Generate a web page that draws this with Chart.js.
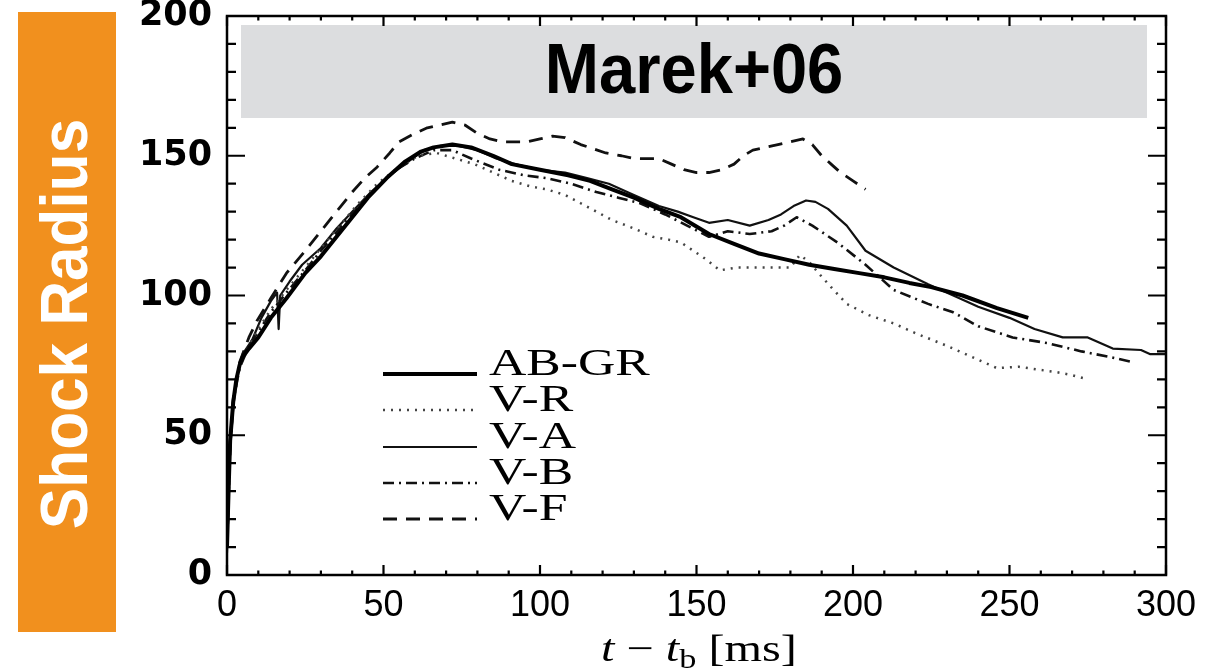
<!DOCTYPE html>
<html>
<head>
<meta charset="utf-8">
<script src="https://cdn.jsdelivr.net/npm/chart.js@4.4.1/dist/chart.umd.min.js"></script>
<style>
  html, body { margin: 0; padding: 0; background: #fff; }
  #wrap { position: relative; width: 1217px; height: 669px; }
  canvas { display: block; }
</style>
</head>
<body>
<div id="wrap"><canvas id="c" width="1217" height="669"></canvas></div>
<script>
// ---- Data ----
const chartTitle = "Marek+06";
const yAxisTitle = "Shock Radius";
const xTicks = [0, 50, 100, 150, 200, 250, 300];
const yTicks = [0, 50, 100, 150, 200];
const seriesNames = ["AB-GR", "V-R", "V-A", "V-B", "V-F"];

const tABGR = [0, 0.5, 1, 2, 3, 4, 5, 7, 10, 14, 19, 25, 30, 35, 40, 45, 51, 57, 62, 66, 72, 78, 85, 91, 100, 109, 116, 123, 130, 138, 145, 154, 162, 170, 178, 186, 194, 202, 210, 218, 225, 235, 246, 256];
const rABGR = [10, 30, 48, 62, 70, 75, 78, 81, 85, 92, 99, 108, 114, 121, 128, 135, 142, 148, 151.5, 153, 154, 153, 150, 147, 145, 143, 141, 138, 135, 131, 128, 122, 118.5, 115, 113, 111, 109.5, 108, 106.5, 104.5, 103, 100, 95.5, 92];

const tVR = [0, 1, 2, 4, 7, 10, 14, 19, 25, 30, 36, 42, 48, 55, 61, 67, 73, 79, 85, 91, 97, 102, 108, 113, 118, 123, 130, 136, 141, 145, 149, 153, 157.5, 163, 170, 176, 180, 183, 186, 189, 193, 198, 205, 213, 220, 230, 240, 246, 253, 259, 265, 270, 275];
const rVR = [10, 46, 62, 74, 82, 88, 95, 102, 110, 117, 125, 133, 140, 146, 150, 151, 149, 147, 144, 141, 139, 138, 136, 133, 130, 127, 124, 121, 120, 119, 116, 113, 109, 110, 110, 110, 110, 114.5, 112, 108, 103, 97, 93, 90, 86.5, 82, 77, 74, 74.5, 73.5, 72.6, 71.5, 70];

const tVA = [0, 1, 2, 3, 5, 8, 11, 14, 16, 16.5, 17, 20, 24, 30, 35, 40, 46, 52, 58, 63, 68, 74, 80, 86, 92, 100, 108, 115, 122, 130, 138, 144, 149, 154, 160, 167, 173, 177, 181, 185, 188, 192, 198, 204, 213, 224, 234, 240, 250, 258, 267, 275, 283, 292, 295, 300];
const rVA = [8, 45, 60, 70, 79, 84, 92, 98, 101, 88, 100, 105, 111, 117, 124, 130, 137, 143, 148, 152, 153.5, 153.5, 152, 149, 147, 145, 144, 142, 140, 136, 132, 130, 128, 126, 127, 125, 127, 129, 132, 134, 133.5, 131, 125, 116, 110, 104, 99, 96, 92, 88, 85, 85, 81, 80.5, 79, 79];

const tVB = [0, 1, 2, 4, 7, 10, 14, 19, 25, 30, 36, 42, 48, 54, 60, 66, 72, 78, 87, 95, 102, 110, 118, 125, 132, 140, 147, 154, 160, 167, 174, 178, 182, 187, 195, 204, 213, 224, 232, 240, 251, 262, 273, 282, 290];
const rVB = [10, 46, 62, 74, 82, 87, 94, 101, 109, 116, 124, 132, 139, 145, 149, 152, 152, 149, 145, 143, 142, 140, 137, 135, 133, 129, 125, 121, 123, 122, 123, 125, 128, 125, 119, 111, 102, 97, 94, 89, 85, 83, 80, 78, 76];

const tVF = [0, 1, 2, 4, 7, 9.6, 14, 19, 25, 30, 35, 40, 44, 48, 52, 55, 60, 64, 68, 72, 76, 80, 84, 88, 92, 96, 100, 104, 108, 113, 117, 121, 126, 130, 134, 138, 142, 146, 150, 154, 158, 162, 165, 168, 172, 176, 180, 184, 187, 190, 193, 196, 200, 204];
const rVF = [10, 47, 63, 76, 85, 91, 99, 108, 116, 123, 130, 137, 142, 146, 151, 155, 158, 160, 161, 162, 161, 158, 156, 155, 155, 155, 156, 157, 156.5, 154, 152.5, 151, 150, 149, 149, 149, 147, 145, 144, 144, 145, 147, 150, 152, 153, 154, 155, 156, 154, 150, 147, 144, 141, 138];

// ---- Styles ----
const styles = [
  { width: 4,   dash: [],            color: "#000" },
  { width: 2.5, dash: [2, 6],        color: "#444" },
  { width: 2.2, dash: [],            color: "#111" },
  { width: 2.6, dash: [11, 5, 2, 5], color: "#111" },
  { width: 2.8, dash: [14, 9],       color: "#111" }
];

function pts(t, r) { return t.map((x, i) => ({ x: x, y: r[i] })); }
const seriesData = [pts(tABGR, rABGR), pts(tVR, rVR), pts(tVA, rVA), pts(tVB, rVB), pts(tVF, rVF)];

const datasets = seriesNames.map((n, i) => ({
  label: n,
  data: seriesData[i],
  showLine: true,
  pointRadius: 0,
  borderColor: styles[i].color,
  borderWidth: styles[i].width,
  borderDash: styles[i].dash,
  borderCapStyle: "butt",
  borderJoinStyle: "round",
  tension: 0,
  fill: false
}));

// Background + orange side label + grey title box
const decorPlugin = {
  id: "decor",
  beforeDraw(chart) {
    const ctx = chart.ctx;
    ctx.save();
    ctx.fillStyle = "#fff";
    ctx.fillRect(0, 0, chart.width, chart.height);
    ctx.fillStyle = "#F1901E";
    ctx.fillRect(18, 12, 98, 620);
    ctx.translate(69, 324);
    ctx.rotate(-Math.PI / 2);
    ctx.scale(0.94, 1);
    ctx.fillStyle = "#fff";
    ctx.font = "bold 66px 'Liberation Sans', Arial, sans-serif";
    ctx.textAlign = "center";
    ctx.textBaseline = "middle";
    ctx.fillText(yAxisTitle, 0, 0);
    ctx.restore();
  },
  beforeDatasetsDraw(chart) {
    const ctx = chart.ctx;
    ctx.save();
    ctx.fillStyle = "#DCDDDF";
    ctx.fillRect(241, 25, 906, 93);
    ctx.translate(694, 74);
    ctx.scale(0.93, 1);
    ctx.fillStyle = "#000";
    ctx.font = "bold 70px 'Liberation Sans', Arial, sans-serif";
    ctx.textAlign = "center";
    ctx.textBaseline = "middle";
    ctx.fillText(chartTitle, 0, 0);
    ctx.restore();
  }
};

// Frame, inward ticks, legend, x title
const framePlugin = {
  id: "frame",
  afterDraw(chart) {
    const ctx = chart.ctx;
    const a = chart.chartArea;
    const xs = chart.scales.x, ys = chart.scales.y;
    ctx.save();
    ctx.strokeStyle = "#000";
    ctx.lineWidth = 2.5;
    ctx.strokeRect(a.left, a.top, a.right - a.left, a.bottom - a.top);
    ctx.lineWidth = 2.2;
    ctx.beginPath();
    for (let v = xs.min; v <= xs.max; v += 10) {
      const p = xs.getPixelForValue(v);
      const L = (v % 50 === 0) ? 10 : 4.5;
      ctx.moveTo(p, a.bottom); ctx.lineTo(p, a.bottom - L);
      ctx.moveTo(p, a.top); ctx.lineTo(p, a.top + L);
    }
    for (let v = ys.min; v <= ys.max; v += 10) {
      const p = ys.getPixelForValue(v);
      const L = (v % 50 === 0) ? 18 : 9;
      ctx.moveTo(a.left, p); ctx.lineTo(a.left + L, p);
      ctx.moveTo(a.right, p); ctx.lineTo(a.right - L, p);
    }
    ctx.stroke();

    // legend
    const rowY = [374, 410, 447, 483, 519];
    for (let i = 0; i < seriesNames.length; i++) {
      const st = styles[i];
      ctx.save();
      ctx.strokeStyle = st.color;
      ctx.lineWidth = st.width;
      ctx.setLineDash(st.dash);
      ctx.beginPath();
      ctx.moveTo(383, rowY[i]);
      ctx.lineTo(477, rowY[i]);
      ctx.stroke();
      ctx.restore();
      ctx.save();
      ctx.translate(489, rowY[i] + 1);
      ctx.scale(1.36, 1);
      ctx.fillStyle = "#000";
      ctx.font = "38px 'Liberation Serif', 'Times New Roman', serif";
      ctx.textAlign = "left";
      ctx.textBaseline = "alphabetic";
      ctx.fillText(seriesNames[i], 0, 0);
      ctx.restore();
    }

    // x axis title: t − t_b [ms]
    ctx.save();
    const fs = 38;
    ctx.translate(699, 661);
    ctx.scale(1.27, 1);
    ctx.fillStyle = "#000";
    ctx.textBaseline = "alphabetic";
    const parts = [
      { s: "t", f: "italic " + fs + "px 'Liberation Serif', serif", dy: 0 },
      { s: " \u2212 ", f: fs + "px 'Liberation Serif', serif", dy: 0 },
      { s: "t", f: "italic " + fs + "px 'Liberation Serif', serif", dy: 0 },
      { s: "b", f: Math.round(fs * 0.7) + "px 'Liberation Serif', serif", dy: 7 },
      { s: " [ms]", f: fs + "px 'Liberation Serif', serif", dy: 0 }
    ];
    let total = 0;
    parts.forEach(p => { ctx.font = p.f; p.w = ctx.measureText(p.s).width; total += p.w; });
    let x = -total / 2;
    parts.forEach(p => { ctx.font = p.f; ctx.fillText(p.s, x, p.dy); x += p.w; });
    ctx.restore();
    ctx.restore();
  }
};

new Chart(document.getElementById("c"), {
  type: "scatter",
  data: { datasets: datasets },
  options: {
    responsive: false,
    animation: false,
    events: [],
    layout: { padding: { top: 16, right: 51, left: 0, bottom: 0 } },
    plugins: { legend: { display: false }, tooltip: { enabled: false }, title: { display: false } },
    scales: {
      x: {
        type: "linear", min: 0, max: 300,
        grid: { display: false }, border: { display: false },
        ticks: {
          stepSize: 50, padding: 1, maxRotation: 0, color: "#000",
          font: { family: "'Liberation Sans', Arial, sans-serif", size: 36 },
          callback: (v) => xTicks.includes(v) ? String(v) : ""
        },
        afterFit(s) { s.height = 94; s.paddingLeft = 0; s.paddingRight = 0; }
      },
      y: {
        type: "linear", min: 0, max: 200,
        grid: { display: false }, border: { display: false },
        ticks: {
          stepSize: 50, padding: 7, color: "#000",
          font: { family: "'DejaVu Sans', sans-serif", size: 35, weight: "bold" },
          callback: (v) => yTicks.includes(v) ? String(v) : ""
        },
        afterFit(s) { s.width = 227; s.paddingTop = 0; s.paddingBottom = 0; }
      }
    }
  },
  plugins: [decorPlugin, framePlugin]
});
</script>
</body>
</html>
